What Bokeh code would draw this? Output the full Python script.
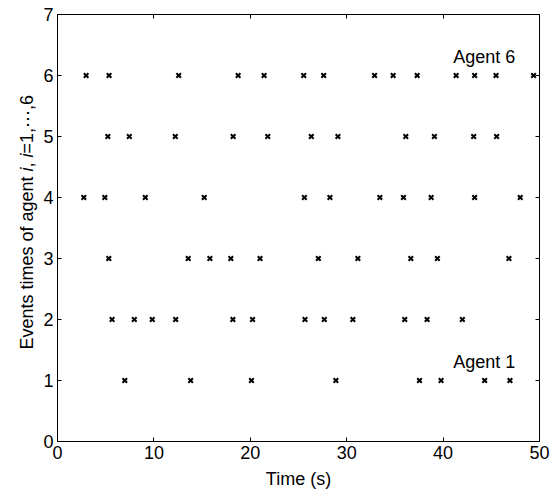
from bokeh.plotting import figure
from bokeh.layouts import row
from bokeh.models import Label, LinearAxis, Range1d, FixedTicker, CustomLabelingPolicy
from bokeh.embed import file_html
from bokeh.resources import INLINE

# Event times (s) for each agent
agent1 = [6.98, 13.81, 20.12, 28.88, 37.55, 39.79, 44.31, 46.94]
agent2 = [5.66, 7.97, 9.83, 12.26, 18.19, 20.23, 25.67, 27.68, 30.64, 36.02, 38.34, 42.0]
agent3 = [5.32, 13.56, 15.81, 17.98, 21.01, 27.06, 31.16, 36.65, 39.41, 46.83]
agent4 = [2.73, 4.91, 9.11, 15.22, 25.61, 28.26, 33.44, 35.89, 38.76, 43.27, 48.0]
agent5 = [5.22, 7.45, 12.22, 18.22, 21.81, 26.33, 29.09, 36.13, 39.10, 43.17, 45.55]
agent6 = [2.97, 5.35, 12.57, 18.74, 21.43, 25.54, 27.61, 32.89, 34.82, 37.31, 41.35, 43.27, 45.49, 49.38]
agents = [agent1, agent2, agent3, agent4, agent5, agent6]

x_ticks = [0, 10, 20, 30, 40, 50]
y_ticks = [0, 1, 2, 3, 4, 5, 6, 7]

FONT = "Liberation Sans"
FS = "18px"
W, H = 551, 493
LABEL_W = 40
TOP, BOTTOM = 14, 52

p = figure(width=W - LABEL_W, height=H, x_range=Range1d(0, 50), y_range=Range1d(0, 7),
           output_backend="svg", toolbar_location=None,
           min_border_left=56 - LABEL_W, min_border_right=12, min_border_top=TOP,
           min_border_bottom=BOTTOM)
p.grid.visible = False
p.outline_line_color = "black"
p.outline_line_width = 1
p.background_fill_color = "white"
p.border_fill_color = "white"

p.xaxis.ticker = FixedTicker(ticks=x_ticks)
p.yaxis.ticker = FixedTicker(ticks=y_ticks)
for ax in (p.xaxis, p.yaxis):
    ax.major_tick_in = 4
    ax.major_tick_out = 0
    ax.minor_tick_line_color = None
    ax.axis_line_color = "black"
    ax.major_tick_line_color = "black"
    ax.major_label_text_font = FONT
    ax.major_label_text_font_size = FS
    ax.major_label_text_color = "black"
    ax.major_label_standoff = 4
p.xaxis.axis_label = "Time (s)"
p.xaxis.axis_label_text_font = FONT
p.xaxis.axis_label_text_font_size = FS
p.xaxis.axis_label_text_font_style = "normal"
p.xaxis.axis_label_text_color = "black"
p.xaxis.axis_label_standoff = 7

no_labels = CustomLabelingPolicy(code="""
    for (const i of indices) indices.unset(i)
    return indices
""")
for loc, tk in (("right", y_ticks), ("above", x_ticks)):
    ax = LinearAxis(ticker=FixedTicker(ticks=tk), major_tick_in=4, major_tick_out=0,
                    minor_tick_line_color=None, major_label_policy=no_labels,
                    major_label_standoff=0, axis_line_color="black",
                    major_tick_line_color="black", major_label_text_font_size="10px")
    p.add_layout(ax, loc)

for i, times in enumerate(agents, start=1):
    p.scatter(times, [i] * len(times), marker="x", size=6.5, line_color="black", line_width=2)

# Agent annotations
p.add_layout(Label(x=41.05, y=6.3, text="Agent 6", text_font=FONT, text_font_size=FS,
                   text_color="black", text_baseline="alphabetic", text_align="left"))
p.add_layout(Label(x=41.05, y=1.3, text="Agent 1", text_font=FONT, text_font_size=FS,
                   text_color="black", text_baseline="alphabetic", text_align="left"))

# Narrow side panel holding the y-axis label (with italic i).
# Its frame is aligned with the main frame; range = pixels measured from canvas bottom.
lf = figure(width=LABEL_W, height=H, x_range=Range1d(0, LABEL_W),
            y_range=Range1d(BOTTOM, H - TOP),
            output_backend="svg", toolbar_location=None, min_border=0,
            min_border_left=0, min_border_right=0, min_border_top=TOP,
            min_border_bottom=BOTTOM, x_axis_location=None, y_axis_location=None)
lf.grid.visible = False
lf.outline_line_color = None
lf.background_fill_color = "white"
lf.border_fill_color = "white"

pieces = [("Events times of agent ", "normal", 9894), ("i", "italic", 222),
          (", ", "normal", 556), ("i", "italic", 222), ("=1,\u22ef,6", "normal", 0)]
off = 0.0
for txt, style, w in pieces:
    lf.add_layout(Label(x=26.5, y=H - 349 + off, text=txt, angle=90, angle_units="deg",
                        text_font=FONT, text_font_size=FS, text_font_style=style,
                        text_color="black", text_align="left", text_baseline="alphabetic"))
    off += w * 0.018

layout = row(lf, p, spacing=0)
open("out.html", "w").write(file_html(layout, INLINE))
